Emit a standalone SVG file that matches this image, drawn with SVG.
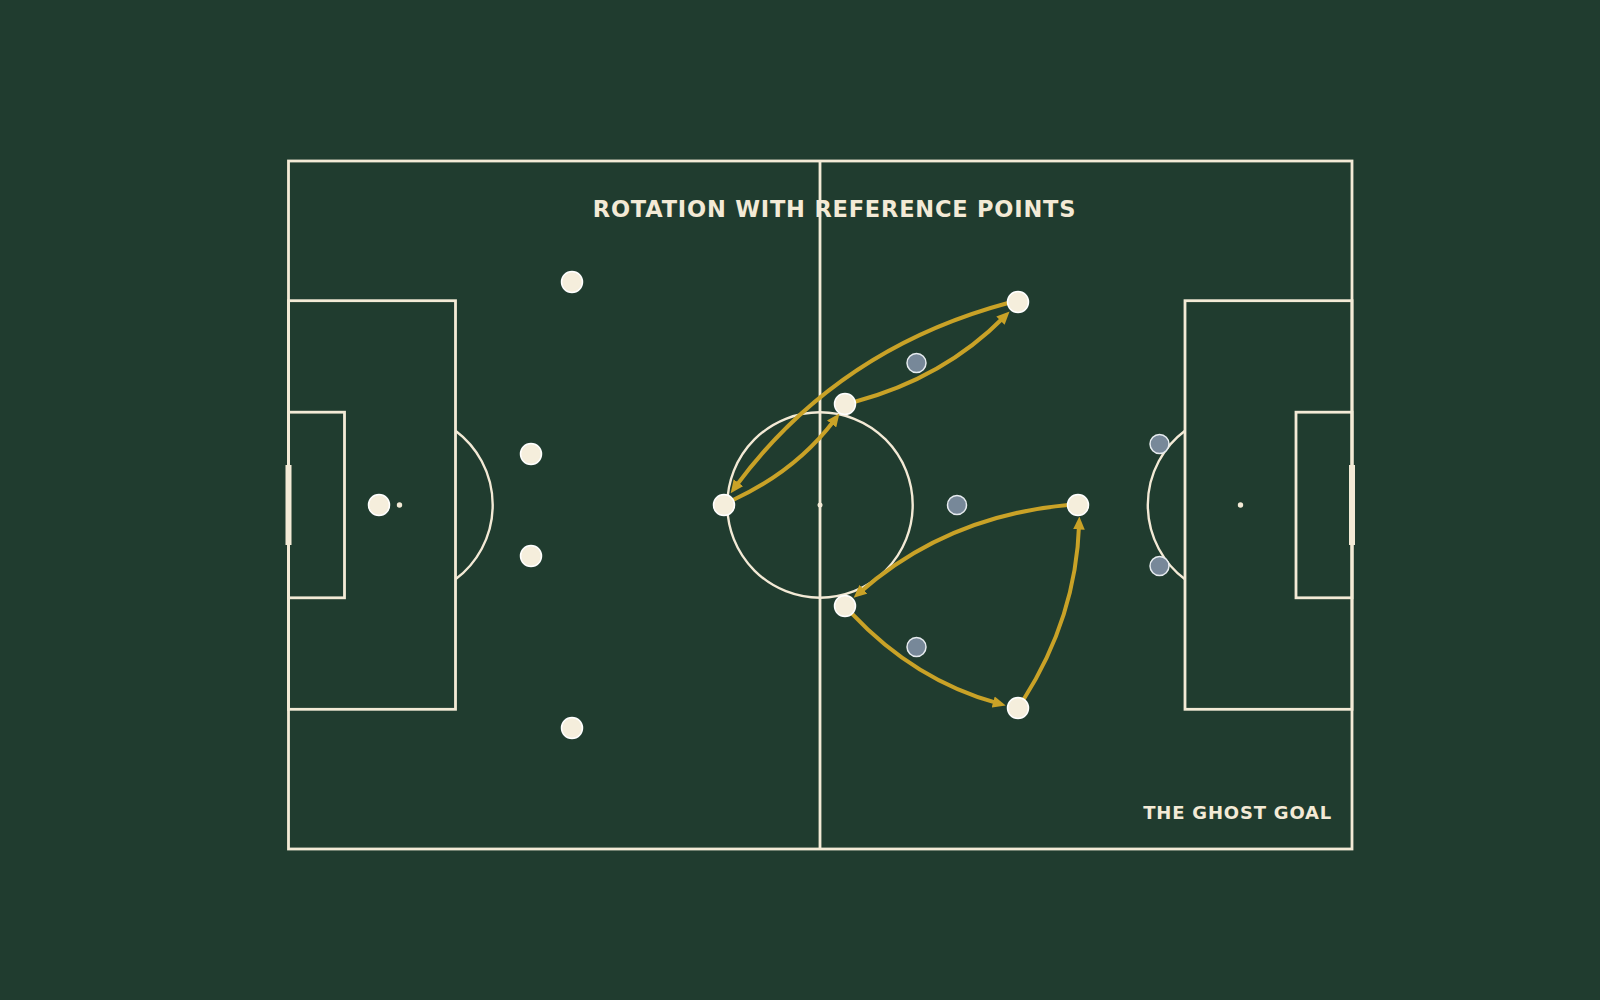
<svg xmlns="http://www.w3.org/2000/svg" width="1600" height="1000" viewBox="0 0 1600 1000">
  <defs>
    <style>
      .line { fill: none; stroke: #f3ead6; stroke-width: 2.8; }
      .thin { fill: none; stroke: #f3ead6; stroke-width: 2.4; }
      .spot { fill: #f3ead6; }
      .goal { fill: #f3ead6; }
      .own { fill: #f5eedc; stroke: #ffffff; stroke-width: 1.5; }
      .opp { fill: #778899; stroke: #e6ebef; stroke-width: 1.5; }
      .run { fill: none; stroke: #c9a227; stroke-width: 4; stroke-linecap: round; }
      .title { font-family: "DejaVu Sans", "Liberation Sans", sans-serif; font-weight: bold; fill: #f3ead6; }
    </style>
    <marker id="ah" viewBox="0 0 10 9" refX="4" refY="4.5" markerWidth="13" markerHeight="12" markerUnits="userSpaceOnUse" orient="auto">
      <path d="M0,0 L10,4.5 L0,9 z" fill="#c9a227"/>
    </marker>
  </defs>

  <rect x="0" y="0" width="1600" height="1000" fill="#203c2f"/>

  <g id="pitch">
    <rect class="line" x="288.5" y="161" width="1063.5" height="688"/>
    <line class="line" x1="820" y1="161" x2="820" y2="849"/>
    <circle class="thin" cx="820" cy="505" r="92.7"/>
    <circle class="spot" cx="820" cy="505" r="2.5"/>
    <!-- left end -->
    <rect class="line" x="288.5" y="300.7" width="167" height="408.6"/>
    <rect class="line" x="288.5" y="412.2" width="56" height="185.6"/>
    <circle class="spot" cx="399.5" cy="505" r="2.7"/>
    <path class="thin" d="M455.5,430.75 A92.7,92.7 0 0 1 455.5,579.25"/>
    <rect class="goal" x="285.5" y="465" width="6" height="80"/>
    <!-- right end -->
    <rect class="line" x="1185" y="300.7" width="167" height="408.6"/>
    <rect class="line" x="1296" y="412.2" width="56" height="185.6"/>
    <circle class="spot" cx="1240.5" cy="505" r="2.7"/>
    <path class="thin" d="M1185,430.75 A92.7,92.7 0 0 0 1185,579.25"/>
    <rect class="goal" x="1349" y="465" width="6" height="80"/>
  </g>

  <text class="title" x="834.5" y="217.3" font-size="22.5" letter-spacing="0.8" text-anchor="middle">ROTATION WITH REFERENCE POINTS</text>
  <text class="title" x="1332" y="819" font-size="18" letter-spacing="0.8" text-anchor="end">THE GHOST GOAL</text>

  <g id="connectors">
    <path class="run" d="M733,500 Q796.4,470.7 834.7,419.8" marker-end="url(#ah)"/>
    <path class="run" d="M855,401.7 Q943.7,378 1004.1,317" marker-end="url(#ah)"/>
    <path class="run" d="M1008,303 Q837,349 735.3,486.9" marker-end="url(#ah)"/>
    <path class="run" d="M1068,505 Q946.4,516.1 859.5,592.7" marker-end="url(#ah)"/>
    <path class="run" d="M851.7,613.3 Q915,680.6 998.2,703.4" marker-end="url(#ah)"/>
    <path class="run" d="M1023.3,700 Q1076.2,616.9 1079.1,524.3" marker-end="url(#ah)"/>
  </g>

  <g id="player-gk"><circle class="own" cx="379" cy="505" r="10.5"/></g>
  <g id="player-lb"><circle class="own" cx="572" cy="282" r="10.5"/></g>
  <g id="player-lcb"><circle class="own" cx="531" cy="454" r="10.5"/></g>
  <g id="player-rcb"><circle class="own" cx="531" cy="556" r="10.5"/></g>
  <g id="player-rb"><circle class="own" cx="572" cy="728" r="10.5"/></g>
  <g id="player-dm"><circle class="own" cx="724" cy="505" r="10.5"/></g>
  <g id="player-lcm"><circle class="own" cx="845" cy="404" r="10.5"/></g>
  <g id="player-lw"><circle class="own" cx="1018" cy="302" r="10.5"/></g>
  <g id="player-st"><circle class="own" cx="1078" cy="505" r="10.5"/></g>
  <g id="player-rcm"><circle class="own" cx="845" cy="606" r="10.5"/></g>
  <g id="player-rw"><circle class="own" cx="1018" cy="708" r="10.5"/></g>

  <g id="opp-1"><circle class="opp" cx="916.5" cy="363" r="9.5"/></g>
  <g id="opp-2"><circle class="opp" cx="957" cy="505" r="9.5"/></g>
  <g id="opp-3"><circle class="opp" cx="916.5" cy="647" r="9.5"/></g>
  <g id="opp-4"><circle class="opp" cx="1159.5" cy="444" r="9.5"/></g>
  <g id="opp-5"><circle class="opp" cx="1159.5" cy="566" r="9.5"/></g>
</svg>
